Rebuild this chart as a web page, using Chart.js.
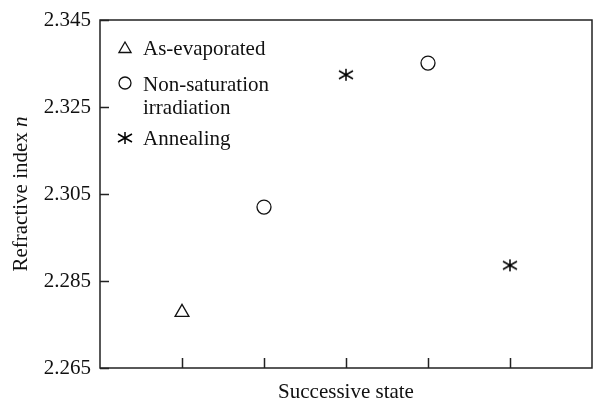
<!DOCTYPE html>
<html>
<head>
<meta charset="utf-8">
<script src="https://cdn.jsdelivr.net/npm/chart.js@4"></script>
<style>
  html, body { margin: 0; padding: 0; background: #fff; }
  canvas { display: block; }
</style>
</head>
<body>
<canvas id="chart" width="593" height="402"></canvas>
<script>
// data
const xTicks = [1, 2, 3, 4, 5];
const yTicks = [2.265, 2.285, 2.305, 2.325, 2.345];
const asEvapX = [1];
const asEvapY = [2.2778];
const nonSatX = [2, 4];
const nonSatY = [2.3020, 2.3351];
const annealX = [3, 5];
const annealY = [2.3324, 2.2886];
const seriesNames = ['As-evaporated', ['Non-saturation', 'irradiation'], 'Annealing'];

const FONT = '"Liberation Serif", "Times New Roman", serif';
const FS = 21;

// asterisk marker (vertical + two diagonals)
function makeAsterisk() {
    const c = document.createElement('canvas');
    c.width = 18; c.height = 16;
    const g = c.getContext('2d');
    g.strokeStyle = '#000';
    g.lineWidth = 1.5;
    g.beginPath();
    g.moveTo(9, 2); g.lineTo(9, 14);
    g.moveTo(2, 4); g.lineTo(16, 12);
    g.moveTo(2, 12); g.lineTo(16, 4);
    g.stroke();
    return c;
}
const asterisk = makeAsterisk();

const toPts = (xs, ys) => xs.map((x, i) => ({ x: x, y: ys[i] }));

// inward ticks, frame, titles and the legend box
const decor = {
    id: 'decor',
    afterDraw(chart) {
        const ctx = chart.ctx;
        const a = chart.chartArea;
        const xs = chart.scales.x, ys = chart.scales.y;
        ctx.save();
        ctx.strokeStyle = '#222';
        ctx.lineWidth = 1.5;
        ctx.strokeRect(a.left, a.top, a.right - a.left, a.bottom - a.top);
        ctx.beginPath();
        yTicks.forEach(v => {
            const py = Math.round(ys.getPixelForValue(v)) + 0.5;
            ctx.moveTo(a.left, py); ctx.lineTo(a.left + 9, py);
        });
        xTicks.forEach(v => {
            const px = Math.round(xs.getPixelForValue(v)) + 0.5;
            ctx.moveTo(px, a.bottom); ctx.lineTo(px, a.bottom - 10);
        });
        ctx.stroke();

        ctx.fillStyle = '#111';
        ctx.font = FS + 'px ' + FONT;
        ctx.textAlign = 'center';
        ctx.textBaseline = 'alphabetic';
        ctx.fillText('Successive state', (a.left + a.right) / 2, 398);

        // y title with italic n
        ctx.translate(27, (a.top + a.bottom) / 2);
        ctx.rotate(-Math.PI / 2);
        const t1 = 'Refractive index ';
        ctx.font = FS + 'px ' + FONT;
        const w1 = ctx.measureText(t1).width;
        ctx.font = 'italic ' + FS + 'px ' + FONT;
        const w2 = ctx.measureText('n').width;
        ctx.textAlign = 'left';
        ctx.font = FS + 'px ' + FONT;
        ctx.fillText(t1, -(w1 + w2) / 2, 0);
        ctx.font = 'italic ' + FS + 'px ' + FONT;
        ctx.fillText('n', -(w1 + w2) / 2 + w1, 0);
        ctx.restore();

        // legend
        ctx.save();
        const ds = chart.data.datasets;
        const rows = [
            { my: 49, lines: [55] },
            { my: 83, lines: [91, 114] },
            { my: 138, lines: [145] }
        ];
        rows.forEach((r, i) => {
            const d = ds[i];
            ctx.strokeStyle = d.borderColor;
            ctx.fillStyle = 'rgba(0,0,0,0)';
            ctx.lineWidth = d.borderWidth;
            Chart.helpers.drawPoint(ctx, {
                pointStyle: d.pointStyle,
                radius: d.legendRadius,
                borderWidth: d.borderWidth
            }, a.left + 25, r.my);
            ctx.fillStyle = '#111';
            ctx.font = FS + 'px ' + FONT;
            ctx.textAlign = 'left';
            const txt = [].concat(seriesNames[i]);
            txt.forEach((s, k) => ctx.fillText(s, a.left + 43, r.lines[k]));
        });
        ctx.restore();
    }
};

new Chart(document.getElementById('chart'), {
    type: 'scatter',
    data: {
        datasets: [
            {
                label: 'As-evaporated',
                data: toPts(asEvapX, asEvapY),
                pointStyle: 'triangle', pointRadius: 8, legendRadius: 7,
                borderColor: '#111', backgroundColor: 'rgba(0,0,0,0)', borderWidth: 1.3
            },
            {
                label: 'Non-saturation irradiation',
                data: toPts(nonSatX, nonSatY),
                pointStyle: 'circle', pointRadius: 7, legendRadius: 6,
                borderColor: '#111', backgroundColor: 'rgba(0,0,0,0)', borderWidth: 1.3
            },
            {
                label: 'Annealing',
                data: toPts(annealX, annealY),
                pointStyle: asterisk, pointRadius: 7, legendRadius: 7,
                borderColor: '#111', backgroundColor: 'rgba(0,0,0,0)', borderWidth: 1.3
            }
        ]
    },
    options: {
        responsive: false,
        animation: false,
        devicePixelRatio: 1,
        layout: { autoPadding: false, padding: { top: 20, right: 1, left: 0, bottom: 0 } },
        plugins: { legend: { display: false }, tooltip: { enabled: false } },
        scales: {
            x: {
                type: 'linear', min: 0, max: 6,
                grid: { display: false, drawTicks: false },
                border: { display: false },
                ticks: { display: false },
                afterFit: s => { s.height = 34; s.paddingLeft = 0; s.paddingRight = 0; }
            },
            y: {
                type: 'linear', min: 2.265, max: 2.345,
                grid: { display: false, drawTicks: false },
                border: { display: false },
                afterBuildTicks: s => { s.ticks = yTicks.map(v => ({ value: v })); },
                ticks: {
                    padding: 9,
                    color: '#111',
                    font: { family: FONT, size: FS },
                    callback: v => v.toFixed(3)
                },
                afterFit: s => { s.width = 100; s.paddingTop = 0; s.paddingBottom = 0; }
            }
        }
    },
    plugins: [decor]
});
</script>
</body>
</html>
